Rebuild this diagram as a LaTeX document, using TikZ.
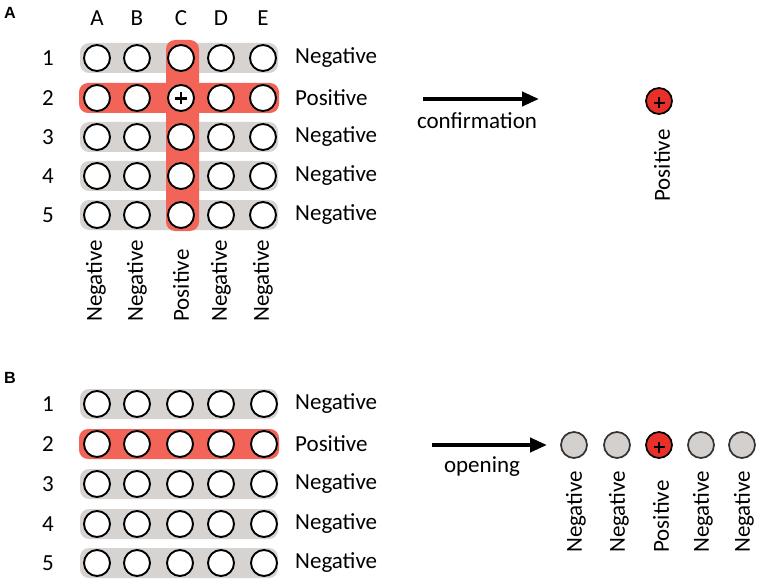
\documentclass[tikz,border=0pt]{standalone}
\usepackage{fontspec}
\setmainfont{Carlito}
\newfontfamily\panelfont{Liberation Sans Bold}
\usetikzlibrary{arrows.meta}
\definecolor{barred}{HTML}{F26457}
\definecolor{bargray}{HTML}{D6D3D1}
\definecolor{dotred}{HTML}{E8302A}
\definecolor{dotgray}{HTML}{D3D0CE}
\begin{document}
\begin{tikzpicture}[x=1pt,y=-1pt,
  cell/.style={circle, draw=black, line width=1.9pt, fill=white, minimum size=26pt, inner sep=0pt},
  dotcell/.style={circle, draw=black!80, line width=1.7pt, fill=dotgray, minimum size=26pt, inner sep=0pt},
  posdot/.style={dotcell, fill=dotred, draw=black},
  lbl/.style={font=\fontsize{23}{27}\selectfont, inner sep=0pt},
  vlbl/.style={lbl, rotate=90, anchor=west},
  plusline/.style={line width=2.3pt, black},
  panel/.style={inner sep=0pt, scale=1.35},
  graybar/.style={fill=bargray, rounded corners=9pt},
  redbar/.style={fill=barred, rounded corners=9pt},
  bigarrow/.style={line width=4pt, -{Triangle[length=17pt,width=14pt]}}]
\useasboundingbox (0,0) rectangle (765,588);

% ---------------- Panel A ----------------
\node[panel] (pA) at (10,13) {\fontsize{12}{12}\selectfont\panelfont A};
\foreach \y in {58,137,176,215} {
  \fill[graybar] (80,\y-15) rectangle (278,\y+15);
}
\fill[redbar] (166,40) rectangle (199,231);
\fill[redbar] (79,83) rectangle (279,113);

\foreach \c/\x in {A/97,B/137,C/181,D/221,E/263} {
  \node[lbl] (colA-\c) at (\x,18) {\c};
  \foreach \r/\y in {1/58,2/98,3/137,4/176,5/215} {
    \node[cell] (A-\r-\c) at (\x,\y) {};
  }
}
\draw[plusline] ([xshift=-6pt,yshift=-0.5pt]A-2-C.center) -- ([xshift=6pt,yshift=-0.5pt]A-2-C.center);
\draw[plusline] ([yshift=5.5pt]A-2-C.center) -- ([yshift=-6.5pt]A-2-C.center);

\foreach \r/\y/\t in {1/58/Negative,2/98/Positive,3/137/Negative,4/176/Negative,5/215/Negative} {
  \node[lbl] (rowA-\r) at (48,\y) {\r};
  \node[lbl, anchor=west] (resA-\r) at (295,\y) {\t};
}
\foreach \c/\x/\t in {A/96/Negative,B/137/Negative,C/181/Positive,D/221/Negative,E/263/Negative} {
  \node[vlbl] (vresA-\c) at (\x,322) {\t};
}

\coordinate (arrA1) at (423,99);
\coordinate (arrA2) at (539,99);
\draw[bigarrow] (arrA1) -- (arrA2);
\node[lbl] (confirm) at (477,121) {confirmation};
\node[posdot] (single) at (659,101) {};
\draw[plusline] ([xshift=-5.5pt,yshift=-2pt]single.center) -- ([xshift=5.5pt,yshift=-2pt]single.center);
\draw[plusline] ([yshift=3.5pt]single.center) -- ([yshift=-7.5pt]single.center);
\node[vlbl] (singlelbl) at (662,202) {Positive};

% ---------------- Panel B ----------------
\node[panel] (pB) at (10,378) {\fontsize{12}{12}\selectfont\panelfont B};
\foreach \y in {404,484,524,563} {
  \fill[graybar] (80,\y-15) rectangle (278,\y+15);
}
\fill[redbar] (79,429) rectangle (279,459);

\foreach \c/\x in {A/97,B/137,C/180,D/221,E/264} {
  \foreach \r/\y in {1/404,2/444,3/484,4/524,5/563} {
    \node[cell] (B-\r-\c) at (\x,\y) {};
  }
}
\foreach \r/\y/\t in {1/404/Negative,2/444/Positive,3/484/Negative,4/524/Negative,5/563/Negative} {
  \node[lbl] (rowB-\r) at (48,\y) {\r};
  \node[lbl, anchor=west] (resB-\r) at (295,\y) {\t};
}

\coordinate (arrB1) at (432,445);
\coordinate (arrB2) at (547,445);
\draw[bigarrow] (arrB1) -- (arrB2);
\node[lbl] (open) at (482,467) {opening};

\foreach \i/\x/\t/\s in {1/574/Negative/dotcell,2/617/Negative/dotcell,3/659/Positive/posdot,4/701/Negative/dotcell,5/742/Negative/dotcell} {
  \node[\s] (D-\i) at (\x,445) {};
  \node[vlbl] (Dl-\i) at (\x+2,553) {\t};
}
\draw[plusline] ([xshift=-5.5pt,yshift=-2pt]D-3.center) -- ([xshift=5.5pt,yshift=-2pt]D-3.center);
\draw[plusline] ([yshift=3.5pt]D-3.center) -- ([yshift=-7.5pt]D-3.center);
\end{tikzpicture}
\end{document}
